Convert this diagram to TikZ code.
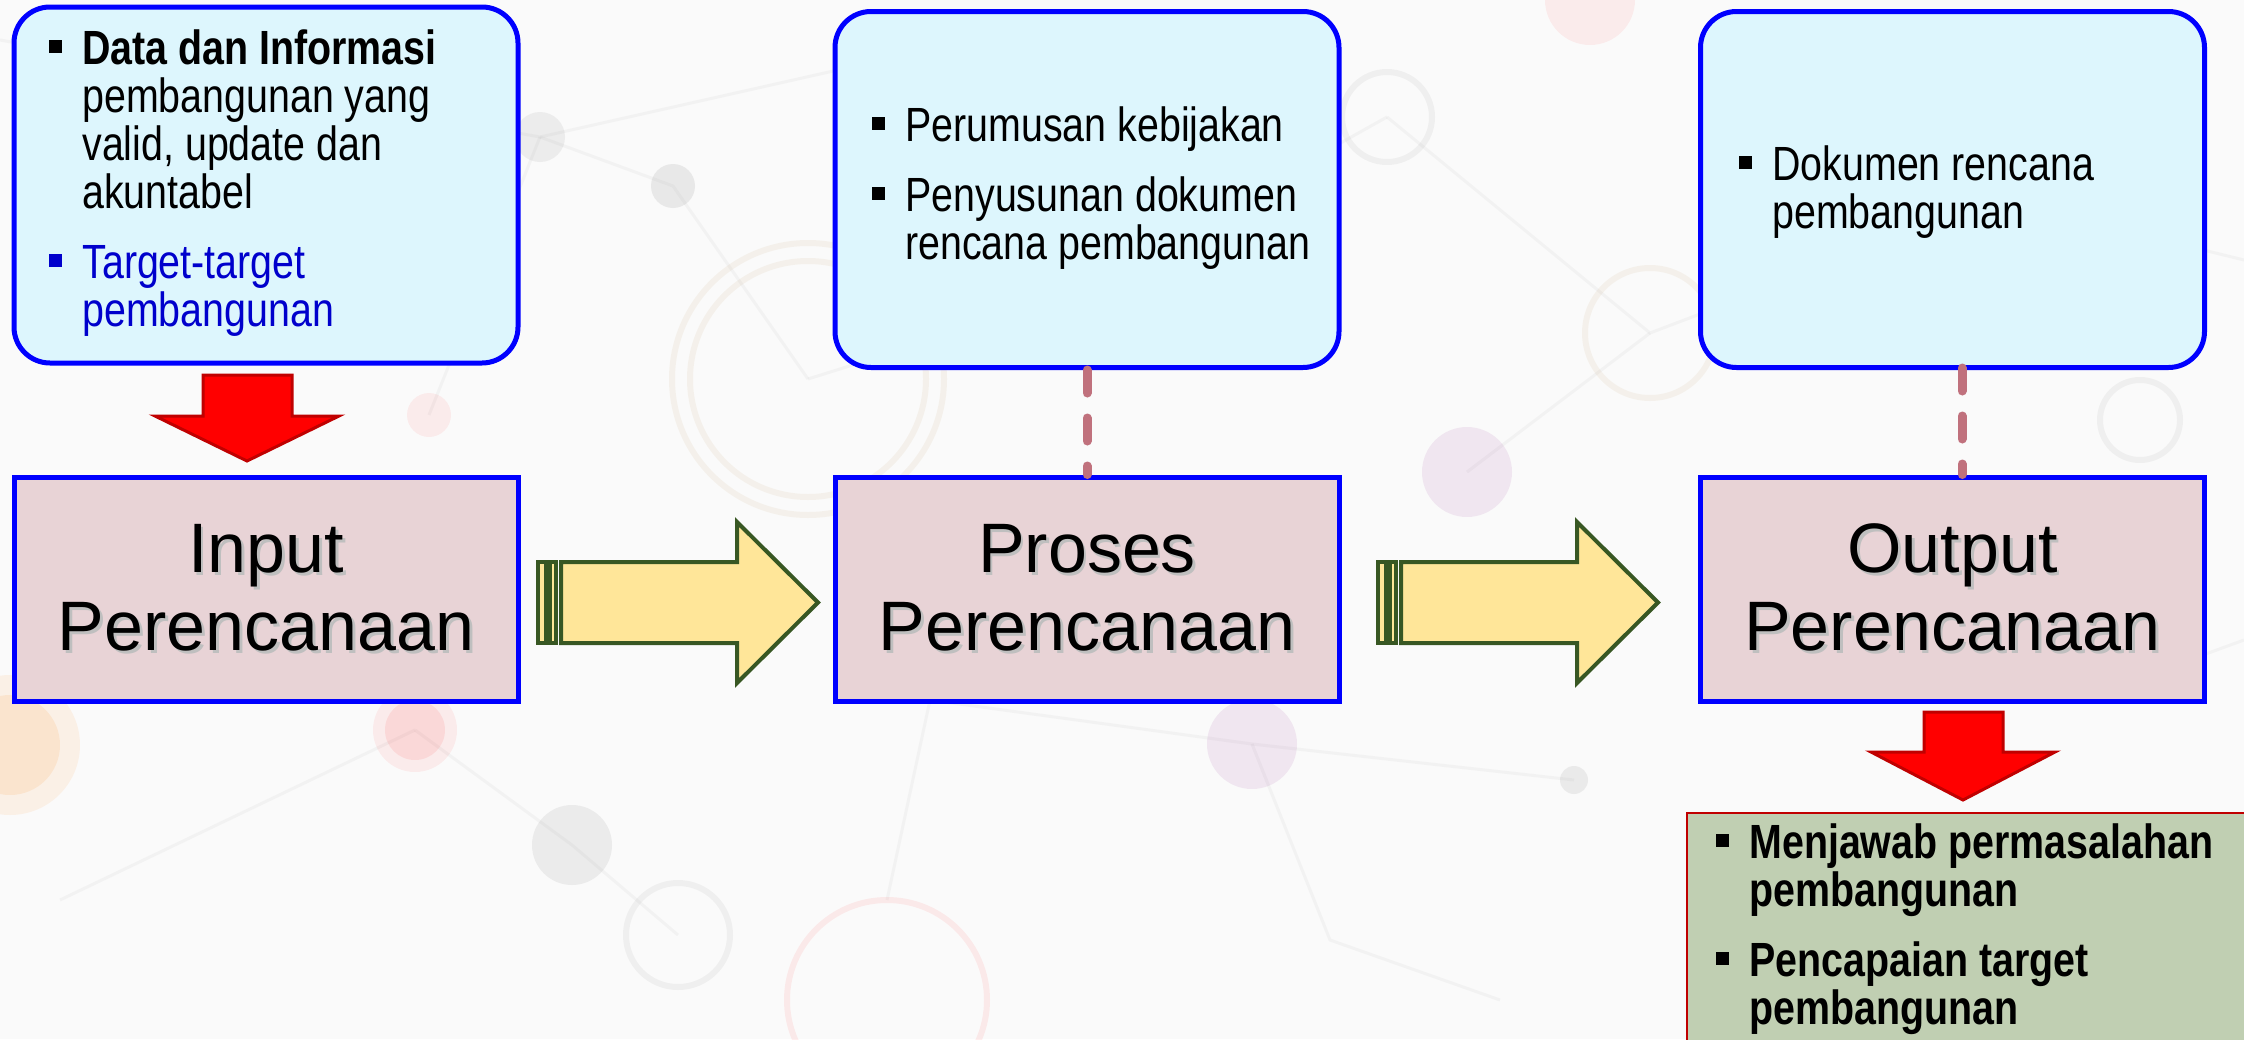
\documentclass[tikz,border=0pt]{standalone}
\usepackage{fontspec}
\setmainfont{Liberation Sans}
\newfontfamily\narrowfont[FakeStretch=0.82]{Liberation Sans}
\usetikzlibrary{calc}

\definecolor{pagebg}{HTML}{FAFAFA}
\definecolor{topfill}{HTML}{DDF6FD}
\definecolor{stagefill}{HTML}{E8D3D6}
\definecolor{boxblue}{HTML}{0000FF}
\definecolor{arrowred}{HTML}{FF0000}
\definecolor{arrowredline}{HTML}{C00000}
\definecolor{flowfill}{HTML}{FFE699}
\definecolor{flowline}{HTML}{385723}
\definecolor{linkpink}{HTML}{C0717D}
\definecolor{resultfill}{HTML}{C0CFB2}
\definecolor{resultline}{HTML}{C00000}
\definecolor{targetblue}{HTML}{0000CC}
\definecolor{netgray}{HTML}{9A9A9A}
\definecolor{netbeige}{HTML}{C8A878}

% bulleted lists with a small square bullet and a hanging indent
\newlength\bulletind
\setlength\bulletind{16.5pt}
\newcommand\sqbullet{\rule[5.5pt]{6.5pt}{6.5pt}}
\newcommand\bpoint[2][black]{\par\hangindent=\bulletind\hangafter=1\noindent
  {\color{#1}\hbox to \bulletind{\sqbullet\hss}#2}\par}
\newcommand\blist[2]{\vtop{\hsize=#1\narrowfont\fontsize{24}{24}\selectfont
  \parindent=0pt\parskip=11pt\baselineskip=24pt\rightskip=0pt plus 1fil #2}}
% stage labels with a soft drop shadow
\newcommand\shadowed[1]{\leavevmode\rlap{\kern1.4pt\raisebox{-1.4pt}{\color{black!25}#1}}#1}

\tikzset{
  topbox/.style={draw=boxblue, line width=2.5pt, fill=topfill, rounded corners=18pt,
    minimum width=252pt, minimum height=178pt, inner sep=0pt},
  stagebox/.style={draw=boxblue, line width=2.5pt, fill=stagefill,
    minimum width=252pt, minimum height=112pt, inner sep=0pt, align=center,
    font=\fontsize{35}{39}\selectfont},
  listtext/.style={anchor=base west, inner sep=0pt},
  downarrow/.style={fill=arrowred, draw=arrowredline, line width=1.5pt, line join=miter},
  flowarrow/.style={fill=flowfill, draw=flowline, line width=2pt, line join=miter},
  linkline/.style={draw=linkpink, line width=4.5pt, line cap=round,
    dash pattern=on 11.5pt off 12.5pt},
  resultbox/.style={draw=resultline, line width=1pt, fill=resultfill},
  netline/.style={draw=netgray, line width=1.5pt, opacity=0.08},
  netring/.style={line width=3pt, opacity=0.11},
}

\begin{document}
\begin{tikzpicture}[x=0.5pt, y=-0.5pt]
\useasboundingbox (0,0) rectangle (2244,1039);
\clip (0,0) rectangle (2244,1039);
\fill[pagebg] (0,0) rectangle (2244,1039);

% faint network pattern in the background
\draw[netline] (0,40) -- (540,137) -- (1060,20);
\draw[netline] (540,137) -- (673,186) -- (808,379);
\draw[netline] (429,415) -- (540,137);
\draw[netline] (808,379) -- (1060,300) -- (1387,117);
\draw[netline] (1387,117) -- (1650,333) -- (2000,200) -- (2244,260);
\draw[netline] (1467,472) -- (1650,333);
\draw[netline] (415,730) -- (572,845) -- (678,935);
\draw[netline] (887,900) -- (930,700) -- (1252,744) -- (1574,780);
\draw[netline] (1252,744) -- (1330,940) -- (1500,1000);
\draw[netline] (60,900) -- (415,730);
\draw[netline] (2080,700) -- (2244,640);
\draw[netring, draw=netbeige] (808,379) circle (136);
\draw[netring, draw=netbeige] (808,379) circle (118);
\draw[netring, draw=netbeige] (1650,333) circle (65);
\draw[netring, draw=netgray] (1387,117) circle (45);
\draw[netring, draw=netgray] (678,935) circle (52);
\draw[netring, draw=red!60] (887,1000) circle (100);
\draw[netring, draw=netgray] (600,600) circle (28);
\draw[netring, draw=netgray] (2140,420) circle (40);
\fill[orange, opacity=0.08] (10,745) circle (70);
\fill[orange, opacity=0.10] (10,745) circle (50);
\fill[red, opacity=0.06] (415,730) circle (42);
\fill[red, opacity=0.08] (415,730) circle (30);
\fill[red, opacity=0.06] (429,415) circle (22);
\fill[red, opacity=0.06] (1590,0) circle (45);
\fill[netgray, opacity=0.15] (572,845) circle (40);
\fill[netgray, opacity=0.18] (673,186) circle (22);
\fill[netgray, opacity=0.14] (540,137) circle (25);
\fill[violet, opacity=0.08] (1252,744) circle (45);
\fill[violet, opacity=0.08] (1467,472) circle (45);
\fill[netgray, opacity=0.16] (1574,780) circle (14);
\fill[netgray, opacity=0.14] (1060,300) circle (12);
\fill[netgray, opacity=0.14] (1230,180) circle (14);

% upper description boxes
\node[topbox] (intop)  at (266,185)   {};
\node[topbox] (protop) at (1087,189.5) {};
\node[topbox] (outtop) at (1952.5,189.5) {};

% stage boxes
\node[stagebox] (input)  at (266,589)    {\shadowed{Input}\\\shadowed{Perencanaan}};
\node[stagebox] (proses) at (1087,589)   {\shadowed{Proses}\\\shadowed{Perencanaan}};
\node[stagebox] (output) at (1952.5,589) {\shadowed{Output}\\\shadowed{Perencanaan}};

% texts of the upper boxes
\node[listtext] (intoptext) at (49,64) {\blist{225pt}{%
  \bpoint{\textbf{Data dan Informasi}\newline pembangunan yang\newline valid, update dan\newline akuntabel}%
  \bpoint[targetblue]{Target-target\newline pembangunan}}};
\node[listtext] (protoptext) at (872,141) {\blist{225pt}{%
  \bpoint{Perumusan kebijakan}%
  \bpoint{Penyusunan dokumen\newline rencana pembangunan}}};
\node[listtext] (outtoptext) at (1739,180) {\blist{225pt}{%
  \bpoint{Dokumen rencana\newline pembangunan}}};

% red arrow from the input box down to the input stage
\path[downarrow] (203,375) -- (292,375) -- (292,416) -- (339,416) -- (247,461)
  -- (155,416) -- (203,416) -- cycle;

% striped flow arrows between the stages
\coordinate (flowA) at (538,562);
\coordinate (flowB) at (1378,562);
\foreach \f in {flowA,flowB}{
  \begin{scope}[shift={(\f)}]
    \path[flowarrow] (0,0) rectangle (8,81);
    \path[flowarrow] (12,0) rectangle (18,81);
    \path[flowarrow] (23,0) -- (199,0) -- (199,-40) -- (280,40.5) -- (199,121)
      -- (199,81) -- (23,81) -- cycle;
  \end{scope}
}

% dashed links from the upper boxes to the stages
\draw[linkline] (protop.south) -- (proses.north);
\coordinate (linkR) at (1962,368);
\draw[linkline] (linkR) -- (linkR |- output.north);

% red arrow below the output stage
\path[downarrow] (1924,712) -- (2003,712) -- (2003,752) -- (2055,752) -- (1963,800)
  -- (1871,752) -- (1924,752) -- cycle;

% result box
\path[resultbox] (1687,813) rectangle (2260,1060);
\node[listtext] (resulttext) at (1716,858) {\blist{260pt}{\bfseries%
  \bpoint{Menjawab permasalahan\newline pembangunan}%
  \bpoint{Pencapaian target\newline pembangunan}}};
\end{tikzpicture}
\end{document}
